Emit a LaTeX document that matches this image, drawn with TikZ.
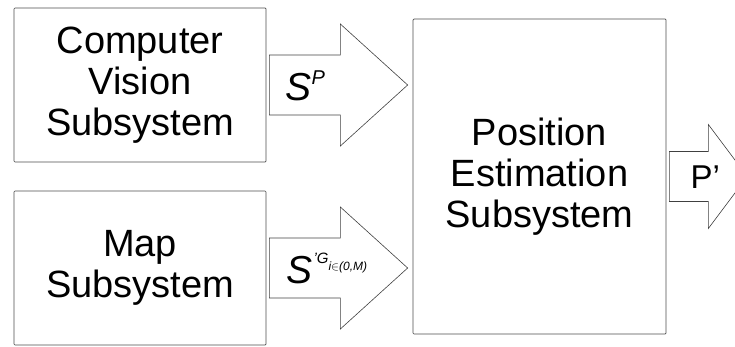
\documentclass[tikz,border=0pt]{standalone}
\usepackage{fontspec}
\setmainfont{Liberation Sans}
\usetikzlibrary{calc}

\begin{document}
\begin{tikzpicture}[x=1pt, y=1pt, font=\fontsize{38}{41}\selectfont,
    subsys/.style={draw=black!70, line width=0.7pt, rounded corners=1pt,
        minimum width=252pt, minimum height=154pt, align=center, inner sep=0pt},
    flow/.style={draw=black!75, line width=0.6pt},
    flowlabel/.style={anchor=base west, inner sep=0pt}]
    \useasboundingbox (0,0) rectangle (735,346);
    \clip (0,0) rectangle (735,346);
    % subsystems
    \node[subsys] (cv) at (140,261) {Computer\\Vision\\Subsystem};
    \node[subsys] (map) at (140,78) {Map\\Subsystem};
    \node[subsys, minimum width=253pt, minimum height=315pt] (pes) at (539.5,169.5)
        {Position\\Estimation\\Subsystem};
    % block arrows into the estimator
    \draw[flow] ($(cv.east)+(3,30)$) -- ++(71,0) -- ++(0,31)
        -- ($(pes.west |- cv.east)+(-5,0)$) -- ($(cv.east)+(74,-61)$)
        -- ++(0,31) -- ++(-71,0) -- cycle;
    \draw[flow] ($(map.east)+(3,30)$) -- ++(71,0) -- ++(0,31)
        -- ($(pes.west |- map.east)+(-5,0)$) -- ($(map.east)+(74,-61)$)
        -- ++(0,31) -- ++(-71,0) -- cycle;
    % output arrow, cut at the right edge
    \draw[flow] ($(pes.east)+(3,25)$) -- ++(39,0) -- ++(0,27)
        -- ($(pes.east)+(81,0)$) -- ($(pes.east)+(42,-52)$)
        -- ++(0,27) -- ++(-39,0) -- cycle;
    % labels
    \node[flowlabel] (sp) at ($(cv.east)+(19,-15)$)
        {\fontsize{39}{39}\selectfont\itshape S\raisebox{16pt}{\fontsize{20}{20}\selectfont P}};
    \node[flowlabel] (sg) at ($(map.east)+(20,-15)$)
        {\fontsize{39}{39}\selectfont\itshape S\raisebox{20pt}{\fontsize{15}{15}\selectfont\kern1pt'G}\raisebox{13pt}{\fontsize{12}{12}\selectfont i$\in$(0,M)}};
    \node[flowlabel] (pp) at ($(pes.east)+(24,-12)$) {\fontsize{33}{33}\selectfont P’};
\end{tikzpicture}
\end{document}
